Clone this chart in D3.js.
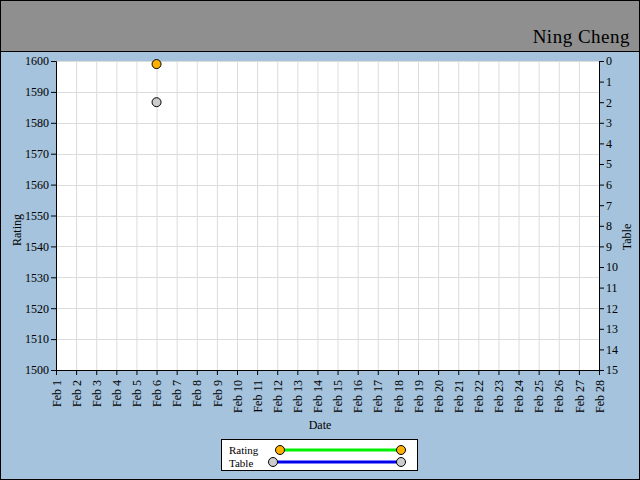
<!DOCTYPE html>
<html>
<head>
<meta charset="utf-8">
<script src="https://cdn.jsdelivr.net/npm/d3@7"></script>
<style>
  body { margin: 0; }
  svg text { font-family: "Liberation Serif", "DejaVu Serif", serif; font-size: 12px; fill: #000; }
</style>
</head>
<body>
<svg id="chart" width="640" height="480"></svg>
<script>
// data
const days = d3.range(1, 29).map(d => "Feb " + d)
const ratingDates = ["Feb 6"]
const ratingValues = [1599]
const tableDates = ["Feb 6"]
const tableValues = [2]
const ratingTicks = d3.range(1500, 1601, 10)
const tableTicks = d3.range(0, 16)

const W = 640, H = 480
const m = { left: 56, right: 599, top: 61, bottom: 370 }

const svg = d3.select("#chart")

// background
svg.append("rect").attr("x", 0).attr("y", 0).attr("width", W).attr("height", H).attr("fill", "#a5c3dc")
svg.append("rect").attr("x", 0).attr("y", 0).attr("width", W).attr("height", 51).attr("fill", "#8f8f8f")
svg.append("line").attr("x1", 0).attr("x2", W).attr("y1", 51.5).attr("y2", 51.5).attr("stroke", "#000")
svg.append("rect").attr("x", 0.5).attr("y", 0.5).attr("width", W - 1).attr("height", H - 1)
    .attr("fill", "none").attr("stroke", "#000")

svg.append("text").attr("x", 630).attr("y", 43).attr("text-anchor", "end")
    .style("font-family", "'Comic Sans MS', cursive").style("font-size", "19px")
    .style("font-weight", "300").style("letter-spacing", "0.5px")
    .text("Ning Cheng")

const x = d3.scalePoint().domain(days).range([m.left, m.right])
const yL = d3.scaleLinear().domain([1500, 1600]).range([m.bottom, m.top])
const yR = d3.scaleLinear().domain([15, 0]).range([m.bottom, m.top])

svg.append("rect").attr("x", m.left).attr("y", m.top).attr("width", m.right - m.left)
    .attr("height", m.bottom - m.top).attr("fill", "#fff")

// grid
const grid = svg.append("g").attr("stroke", "#dcdcdc").attr("stroke-width", 1)
days.forEach(d => {
    grid.append("line").attr("x1", x(d) + 0.5).attr("x2", x(d) + 0.5)
        .attr("y1", m.top).attr("y2", m.bottom)
})
ratingTicks.forEach(v => {
    grid.append("line").attr("x1", m.left).attr("x2", m.right)
        .attr("y1", Math.round(yL(v)) + 0.5).attr("y2", Math.round(yL(v)) + 0.5)
})

// axes
const gl = svg.append("g").attr("transform", `translate(${m.left},0)`)
    .call(d3.axisLeft(yL).tickValues(ratingTicks).tickFormat(d3.format("d")).tickSize(5).tickPadding(2))
const gr = svg.append("g").attr("transform", `translate(${m.right},0)`)
    .call(d3.axisRight(yR).tickValues(tableTicks).tickFormat(d3.format("d")).tickSize(5).tickPadding(2))
const gb = svg.append("g").attr("transform", `translate(0,${m.bottom})`)
    .call(d3.axisBottom(x).tickSize(5))
gb.selectAll("text").attr("transform", "rotate(-90)").attr("text-anchor", "end")
    .attr("x", -10).attr("y", 0).attr("dy", "0.35em")
svg.selectAll(".domain").attr("stroke", "#000")
svg.selectAll(".tick line").attr("stroke", "#000")
svg.selectAll(".tick text").style("font-size", "12px").attr("fill", "#000")

svg.append("text").attr("transform", "translate(21,230) rotate(-90)").attr("text-anchor", "middle").text("Rating")
svg.append("text").attr("transform", "translate(631,237) rotate(-90)").attr("text-anchor", "middle").text("Table")
svg.append("text").attr("x", 320).attr("y", 429).attr("text-anchor", "middle").text("Date")

// points
svg.selectAll(".rt").data(ratingDates).enter().append("circle")
    .attr("cx", d => x(d)).attr("cy", (d, i) => yL(ratingValues[i])).attr("r", 4.5)
    .attr("fill", "#ffb000").attr("stroke", "#000")
svg.selectAll(".tb").data(tableDates).enter().append("circle")
    .attr("cx", d => x(d)).attr("cy", (d, i) => yR(tableValues[i])).attr("r", 4.5)
    .attr("fill", "#cccccc").attr("stroke", "#000")

// legend
const lg = svg.append("g")
lg.append("rect").attr("x", 221.5).attr("y", 439.5).attr("width", 196).attr("height", 31)
    .attr("fill", "#fff").attr("stroke", "#000")
lg.append("text").attr("x", 229).attr("y", 454).style("font-size", "11px").text("Rating")
lg.append("text").attr("x", 229).attr("y", 466.5).style("font-size", "11px").text("Table")
lg.append("line").attr("x1", 280).attr("x2", 401).attr("y1", 450).attr("y2", 450).attr("stroke", "#00ee00").attr("stroke-width", 3)
lg.append("line").attr("x1", 273).attr("x2", 401).attr("y1", 462).attr("y2", 462).attr("stroke", "#0000ee").attr("stroke-width", 3)
;[280, 401].forEach(cx => lg.append("circle").attr("cx", cx).attr("cy", 450).attr("r", 4.5).attr("fill", "#ffb000").attr("stroke", "#000"))
;[273, 401].forEach(cx => lg.append("circle").attr("cx", cx).attr("cy", 462).attr("r", 4.5).attr("fill", "#cccccc").attr("stroke", "#000"))
</script>
</body>
</html>
